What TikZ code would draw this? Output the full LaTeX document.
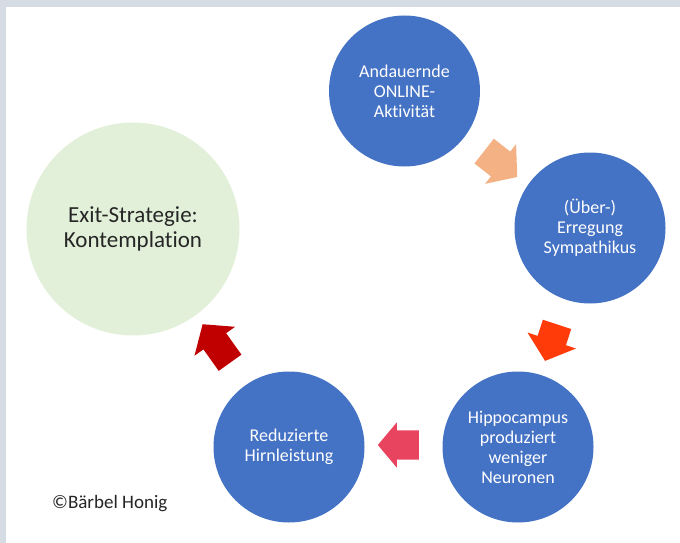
\documentclass[tikz,border=0pt]{standalone}
\usepackage{fontspec}
\setmainfont[Ligatures=NoCommon]{Carlito}
\usetikzlibrary{shapes.arrows}
\definecolor{framegray}{HTML}{D6DCE4}
\definecolor{cblue}{HTML}{4472C4}
\definecolor{cgreen}{HTML}{E2F0D9}
\definecolor{ctext}{HTML}{262626}
\definecolor{apeach}{HTML}{F4B183}
\definecolor{aorange}{HTML}{FF3B0A}
\definecolor{apink}{HTML}{E8445F}
\definecolor{adark}{HTML}{C00000}
\begin{document}
\begin{tikzpicture}[x=1pt,y=-1pt,
  bluecircle/.style={circle, fill=cblue, draw=none, minimum size=151pt, inner sep=0pt,
    text=white, align=center, font=\fontsize{18}{20}\selectfont},
  blockarrow/.style={single arrow, draw=none, inner xsep=0pt, single arrow tip angle=100,
    single arrow head indent=0pt}
]
\useasboundingbox (0,0) rectangle (680,543);
\fill[white] (0,0) rectangle (680,543);
\fill[framegray] (0,0) rectangle (680,7);
\fill[framegray] (0,0) rectangle (6,543);

\node[circle, fill=cgreen, draw=none, minimum size=213pt, inner sep=0pt, align=center,
  text=ctext, font=\fontsize{23}{25}\selectfont] (exit) at (133,229) {Exit-Strategie:\\Kontemplation};

\node[bluecircle] (online) at (404.5,91) {Andauernde\\ONLINE-\\Aktivität};
\node[bluecircle] (erregung) at (590,228) {(Über-)\\Erregung\\Sympathikus};
\node[bluecircle] (hippo) at (518,447) {Hippocampus\\produziert\\weniger\\Neuronen};
\node[bluecircle] (hirn) at (289,447) {Reduzierte\\Hirnleistung};

\node[blockarrow, fill=apeach, inner ysep=15.5pt, single arrow head extend=9.5pt,
  minimum height=42pt, rotate=-38] (a1) at (495.5,160) {};
\node[blockarrow, fill=aorange, inner ysep=14.7pt, single arrow head extend=10.6pt,
  minimum height=38.4pt, rotate=-108.2] (a2) at (553,336.7) {};
\node[blockarrow, fill=apink, inner ysep=14.5pt, single arrow head extend=8pt,
  minimum height=41pt, rotate=180] (a3) at (404.5,445) {};
\node[blockarrow, fill=adark, inner ysep=13.75pt, single arrow head extend=11pt,
  minimum height=47.3pt, rotate=125.5] (a4) at (219.75,348.25) {};

\node[anchor=base west, inner sep=0pt, text=ctext, font=\fontsize{19}{22}\selectfont]
  (copy) at (52,508) {©Bärbel Honig};
\end{tikzpicture}
\end{document}
